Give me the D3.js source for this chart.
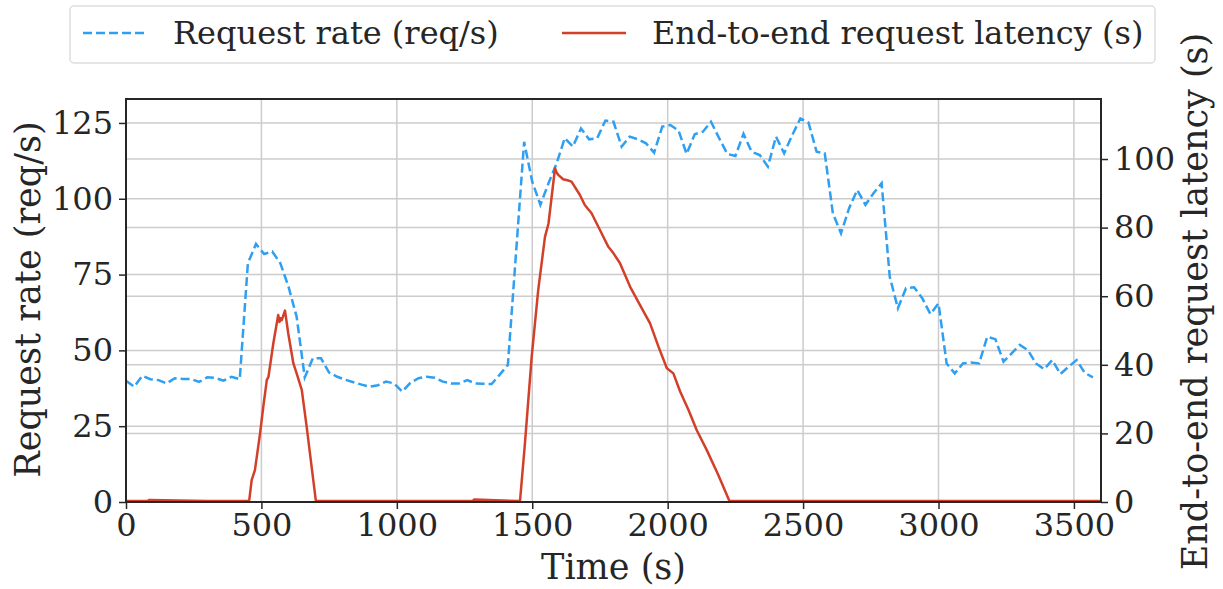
<!DOCTYPE html>
<html>
	<head>
		<script src="https://d3js.org/d3.v7.min.js"></script>
		<style>
			body {
				margin: 0;
				background: #fff;
			}
			text {
				font-family: 'DejaVu Serif', serif;
				fill: #262626;
			}
			.grid line {
				stroke: #cccccc;
				stroke-width: 1.5px;
			}
			.axis path,
			.axis line {
				stroke: #262626;
			}
		</style>
	</head>
	<body>
		<svg id="chart" width="1223" height="589"></svg>
		<script>
			// request rate, sampled every 30 s
			const rateTimes = d3.range(0, 3600, 30);
			const rateValues = [
				40, 38, 41.6, 40.5, 40.2, 39.1, 40.8, 40.6, 40.6, 39.6, 41.1, 40.9, 40, 41.3, 40.5, 78.7, 85.1, 81.8, 82.6, 78.7,
				71, 61.1, 41.1, 47.4, 47.4, 42.7, 41.3, 40.3, 39.5, 38.7, 38, 38.5, 39.7, 39.1, 36.4, 39.3, 40.8, 41.3, 41, 39.7,
				39.1, 39.1, 40.2, 39.1, 39, 38.9, 42, 45.2, 82, 118.8, 105.6, 98, 105.1, 111.7, 120, 117.2, 123.2, 119.6, 120, 125.8,
				125.4, 117.2, 120.5, 119.6, 118.3, 115.2, 123.8, 124.3, 122.5, 114.8, 121.3, 122.1, 125.4, 120, 114.8, 114.1, 121.4, 115.5, 114.4, 110.6,
				120.5, 115, 121, 126.5, 125.1, 115.5, 115, 95.2, 88.6, 96.9, 102.9, 98, 101.8, 105.1, 74.3, 63.9, 70.5, 70.8, 67.2, 62,
				65.5, 45.7, 42.4, 45.7, 46, 45.7, 54.5, 53.7, 46.3, 49, 51.8, 50.1, 45.7, 43.8, 46.8, 42.2, 44.6, 46.8, 42.6, 41.1
			];

			// end-to-end latency
			const latTimes = [
				0, 80, 85, 300, 450, 455, 464, 476, 495, 507, 520, 526, 544, 562, 567, 571, 575, 587, 599, 618, 630, 649, 667, 701,
				1000, 1280, 1285, 1450, 1455, 1473, 1498, 1522, 1547, 1560, 1584, 1590, 1597, 1614, 1630, 1645, 1676, 1694, 1719,
				1750, 1781, 1800, 1824, 1861, 1898, 1935, 1966, 1997, 2021, 2046, 2077, 2107, 2144, 2187, 2228, 2500, 3000, 3600
			];
			const latValues = [
				0.3, 0.3, 0.6, 0.3, 0.3, 0.5, 6.4, 9.3, 20, 27.8, 35.6, 36.5, 46.3, 54.5, 52.5, 53.6, 53, 55.8, 49.2, 40.4, 37.5, 32.7, 22, 0.3,
				0.3, 0.3, 0.7, 0.3, 0.5, 17.1, 42.4, 61.8, 77.3, 81.2, 97.3, 96, 95.3, 94.1, 93.8, 93.4, 89.5, 86.6, 84.2,
				79.3, 74.4, 72.5, 69.6, 62.8, 57.4, 52.1, 45.3, 39, 37.5, 32.2, 26.8, 21, 15.2, 7.9, 0.3, 0.3, 0.3, 0.3
			];

			const xTicks = [0, 500, 1000, 1500, 2000, 2500, 3000, 3500];
			const leftTicks = [0, 25, 50, 75, 100, 125];
			const rightTicks = [0, 20, 40, 60, 80, 100];

			const svg = d3.select('svg#chart');
			const margin = { top: 99, right: 122, bottom: 87, left: 126 };
			const width = 1223 - margin.left - margin.right;
			const height = 589 - margin.top - margin.bottom;
			const g = svg.append('g').attr('transform', 'translate(' + margin.left + ',' + margin.top + ')');

			const x = d3.scaleLinear().domain([0, 3600]).range([0, width]);
			const yL = d3.scaleLinear().domain([0, 132.9]).range([height, 0]);
			const yR = d3.scaleLinear().domain([0, 117.5]).range([height, 0]);

			// grid
			const grid = g.append('g').attr('class', 'grid');
			grid.selectAll('line.gx').data(xTicks).join('line').attr('class', 'gx')
				.attr('x1', (d) => x(d)).attr('x2', (d) => x(d)).attr('y1', 0).attr('y2', height);
			grid.selectAll('line.gl').data(leftTicks).join('line').attr('class', 'gl')
				.attr('x1', 0).attr('x2', width).attr('y1', (d) => yL(d)).attr('y2', (d) => yL(d));
			grid.selectAll('line.gr').data(rightTicks).join('line').attr('class', 'gr')
				.attr('x1', 0).attr('x2', width).attr('y1', (d) => yR(d)).attr('y2', (d) => yR(d));

			const rateLine = d3.line().x((d, i) => x(rateTimes[i])).y((d) => yL(d));
			g.append('path').datum(rateValues).attr('d', rateLine)
				.attr('fill', 'none').attr('stroke', '#2f9ff2').attr('stroke-width', 2.5)
				.attr('stroke-dasharray', '9,4');

			const latLine = d3.line().x((d, i) => x(latTimes[i])).y((d) => yR(d));
			g.append('path').datum(latValues).attr('d', latLine)
				.attr('fill', 'none').attr('stroke', '#d2402a').attr('stroke-width', 2.5)
				.attr('stroke-linejoin', 'round');

			// frame
			g.append('rect').attr('width', width).attr('height', height)
				.attr('fill', 'none').attr('stroke', '#262626').attr('stroke-width', 2);

			const fs = '32px';
			const xAxis = g.append('g').attr('class', 'axis').attr('transform', 'translate(0,' + height + ')')
				.call(d3.axisBottom(x).tickValues(xTicks).tickFormat(d3.format('d')).tickSize(7).tickPadding(4).tickSizeOuter(0));
			const lAxis = g.append('g').attr('class', 'axis')
				.call(d3.axisLeft(yL).tickValues(leftTicks).tickSize(7).tickPadding(6).tickSizeOuter(0));
			const rAxis = g.append('g').attr('class', 'axis').attr('transform', 'translate(' + width + ',0)')
				.call(d3.axisRight(yR).tickValues(rightTicks).tickSize(7).tickPadding(6).tickSizeOuter(0));
			[xAxis, lAxis, rAxis].forEach((a) => {
				a.select('.domain').remove();
				a.selectAll('line').attr('stroke-width', 1.5);
				a.selectAll('text').style('font-size', fs).attr('font-family', null).attr('fill', '#262626');
			});

			// axis labels
			svg.append('text').attr('x', margin.left + width / 2).attr('y', 579)
				.attr('text-anchor', 'middle').style('font-size', '35px').text('Time (s)');
			svg.append('text').attr('transform', 'translate(40,' + (margin.top + height / 2 - 1) + ') rotate(-90)')
				.attr('text-anchor', 'middle').style('font-size', '35px').text('Request rate (req/s)');
			svg.append('text').attr('transform', 'translate(1207,' + (margin.top + height / 2 + 1) + ') rotate(-90)')
				.attr('text-anchor', 'middle').style('font-size', '35px').text('End-to-end request latency (s)');

			// legend
			const legend = svg.append('g');
			legend.append('rect').attr('x', 70).attr('y', 6).attr('width', 1085).attr('height', 57).attr('rx', 4)
				.attr('fill', '#fff').attr('stroke', '#dddddd').attr('stroke-width', 1.5);
			legend.append('line').attr('x1', 83).attr('x2', 147).attr('y1', 33).attr('y2', 33)
				.attr('stroke', '#2f9ff2').attr('stroke-width', 2.5).attr('stroke-dasharray', '9,4');
			legend.append('text').attr('x', 173).attr('y', 44).style('font-size', '32px').text('Request rate (req/s)');
			legend.append('line').attr('x1', 562).attr('x2', 626).attr('y1', 33).attr('y2', 33)
				.attr('stroke', '#d2402a').attr('stroke-width', 2.5);
			legend.append('text').attr('x', 652).attr('y', 44).style('font-size', '32px').text('End-to-end request latency (s)');
		</script>
	</body>
</html>
